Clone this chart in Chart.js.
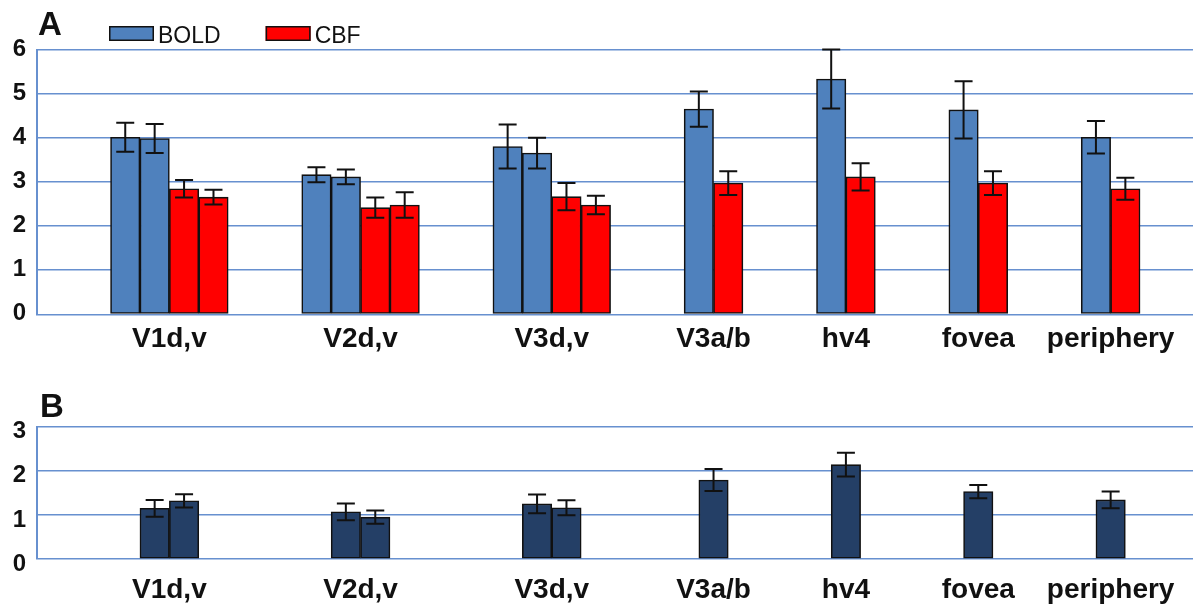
<!DOCTYPE html>
<html>
<head>
<meta charset="utf-8">
<script src="https://cdn.jsdelivr.net/npm/chart.js@4/dist/chart.umd.min.js"></script>
<style>
  html, body { margin: 0; padding: 0; background: #ffffff; }
  #wrap { position: relative; width: 1193px; height: 611px; overflow: hidden; }
  canvas { position: absolute; left: 0; }
  #panelA { top: 0; }
  #panelB { top: 365px; }
</style>
</head>
<body>
<div id="wrap">
  <canvas id="panelA" width="1193" height="365"></canvas>
  <canvas id="panelB" width="1193" height="246"></canvas>
</div>
<script>
// Visual areas: one group of bars per area (d and v subdivisions where present)
const categories = ['V1d,v', 'V2d,v', 'V3d,v', 'V3a/b', 'hv4', 'fovea', 'periphery'];
const seriesNames = ['BOLD', 'CBF'];

// Panel A: BOLD and CBF responses with error bars
const boldMean = [[4.02, 3.99], [3.17, 3.12], [3.81, 3.66], [4.66], [5.34], [4.64], [4.02]];
const boldErr  = [[0.33, 0.33], [0.17, 0.17], [0.50, 0.35], [0.40], [0.67], [0.65], [0.37]];
const cbfMean  = [[2.85, 2.66], [2.42, 2.48], [2.67, 2.48], [2.98], [3.12], [2.98], [2.85]];
const cbfErr   = [[0.20, 0.17], [0.23, 0.29], [0.31, 0.21], [0.27], [0.31], [0.27], [0.25]];

// Panel B: BOLD / CBF ratio with error bars
const ratioMean = [[1.15, 1.32], [1.07, 0.95], [1.25, 1.16], [1.79], [2.14], [1.53], [1.34]];
const ratioErr  = [[0.19, 0.15], [0.19, 0.15], [0.21, 0.17], [0.25], [0.27], [0.15], [0.19]];

// Value-axis ticks
const yTicksA = [0, 1, 2, 3, 4, 5, 6];
const yTicksB = [0, 1, 2, 3];

// ---- layout (x axis measured in bar widths) ----
const FONT = "'Liberation Sans', Arial, Helvetica, sans-serif";
const GAP = 2.5;          // empty slots before each group
const X_MAX = 39.3;       // visible extent of the category axis
const GRID = '#6790cf';
const INK = '#111111';
const COLORS = { BOLD: '#4f81bd', CBF: '#ff0000', ratio: '#243f66' };

// Group centres follow from the number of bars in each panel-A group
const groupCenters = [];
{
  let start = GAP;
  categories.forEach((_, i) => {
    const n = boldMean[i].length + cbfMean[i].length;
    groupCenters.push(start + n / 2);
    start += n + GAP;
  });
}

// Builds {x, y} bar points for one series; `offset(i)` gives the slot of the
// series' first bar inside group i, counted from the group's first slot.
function buildSeries(means, errors, groupSize, offset) {
  const data = [], errs = [];
  means.forEach((vals, i) => {
    const first = groupCenters[i] - groupSize(i) / 2 + 0.5 + offset(i);
    vals.forEach((v, j) => {
      data.push({ x: first + j, y: v });
      errs.push(errors[i][j]);
    });
  });
  return { data, errs };
}

const sizeA = i => boldMean[i].length + cbfMean[i].length;
const boldSeries = buildSeries(boldMean, boldErr, sizeA, () => 0);
const cbfSeries = buildSeries(cbfMean, cbfErr, sizeA, i => boldMean[i].length);
const ratioSeries = buildSeries(ratioMean, ratioErr, i => ratioMean[i].length, () => 0);

function barDataset(label, series, color) {
  return {
    type: 'bar',
    label,
    data: series.data,
    errors: series.errs,
    backgroundColor: color,
    borderColor: INK,
    borderWidth: 1.6,
    borderSkipped: false,
    grouped: false,
    barPercentage: 1,
    categoryPercentage: 1
  };
}

// Error bars with caps, drawn through the value scale
const errorBars = {
  id: 'errorBars',
  afterDatasetsDraw(chart) {
    const ctx = chart.ctx;
    const y = chart.scales.y;
    chart.data.datasets.forEach((ds, di) => {
      if (!ds.errors) return;
      const meta = chart.getDatasetMeta(di);
      meta.data.forEach((bar, i) => {
        const v = ds.data[i].y, e = ds.errors[i];
        const top = y.getPixelForValue(v + e);
        const bot = y.getPixelForValue(v - e);
        const half = 9;
        ctx.save();
        ctx.strokeStyle = INK;
        ctx.lineWidth = 2;
        ctx.beginPath();
        ctx.moveTo(bar.x, top); ctx.lineTo(bar.x, bot);
        ctx.moveTo(bar.x - half, top); ctx.lineTo(bar.x + half, top);
        ctx.moveTo(bar.x - half, bot); ctx.lineTo(bar.x + half, bot);
        ctx.stroke();
        ctx.restore();
      });
    });
  }
};

// Panel letter and the series key
const panelDecor = {
  id: 'panelDecor',
  afterDraw(chart, args, opts) {
    const ctx = chart.ctx;
    ctx.save();
    if (opts.letter) {
      ctx.fillStyle = INK;
      ctx.font = `bold 33px ${FONT}`;
      ctx.textBaseline = 'alphabetic';
      ctx.textAlign = 'left';
      ctx.fillText(opts.letter, opts.letterX, opts.letterY);
    }
    if (opts.key) {
      let x = opts.key.x;
      const y = opts.key.y;
      ctx.font = `23px ${FONT}`;
      ctx.textBaseline = 'alphabetic';
      chart.data.datasets.forEach(ds => {
        ctx.fillStyle = ds.backgroundColor;
        ctx.fillRect(x, y, 45, 15);
        ctx.strokeStyle = INK;
        ctx.lineWidth = 1.5;
        ctx.strokeRect(x + 0.75, y + 0.75, 43.5, 13.5);
        ctx.fillStyle = INK;
        ctx.fillText(ds.label, x + 49, y + 17);
        x += 49 + ctx.measureText(ds.label).width + 45;
      });
    }
    ctx.restore();
  }
};

function panelOptions(cfg) {
  return {
    responsive: false,
    animation: false,
    events: [],
    layout: { padding: { top: cfg.top, left: 0, right: 0, bottom: 0 } },
    plugins: {
      legend: { display: false },
      tooltip: { enabled: false },
      panelDecor: cfg.decor
    },
    scales: {
      x: {
        type: 'linear',
        min: 0,
        max: X_MAX,
        offset: false,
        grid: { display: false, drawTicks: false },
        border: { display: false },
        afterBuildTicks: s => { s.ticks = groupCenters.map(v => ({ value: v })); },
        afterFit: s => { s.height = cfg.xHeight; },
        ticks: {
          autoSkip: false,
          maxRotation: 0,
          padding: cfg.xPad,
          color: INK,
          font: { family: FONT, size: 28, weight: 'bold' },
          callback: (v, i) => categories[i]
        }
      },
      y: {
        min: 0,
        max: cfg.yTicks[cfg.yTicks.length - 1],
        afterBuildTicks: s => { s.ticks = cfg.yTicks.map(v => ({ value: v })); },
        afterFit: s => { s.width = 37; },
        grid: { color: GRID, lineWidth: 1.6, drawTicks: false },
        border: { display: true, color: GRID, width: 2 },
        ticks: {
          padding: 11,
          labelOffset: cfg.yOffset,
          color: INK,
          font: { family: FONT, size: 24, weight: 'bold' }
        }
      }
    }
  };
}

new Chart(document.getElementById('panelA'), {
  type: 'bar',
  data: {
    datasets: [
      barDataset(seriesNames[0], boldSeries, COLORS.BOLD),
      barDataset(seriesNames[1], cbfSeries, COLORS.CBF)
    ]
  },
  options: panelOptions({
    top: 50, xHeight: 50.7, xPad: 8, yTicks: yTicksA, yOffset: -1,
    decor: { letter: 'A', letterX: 38, letterY: 35, key: { x: 109, y: 26 } }
  }),
  plugins: [errorBars, panelDecor]
});

new Chart(document.getElementById('panelB'), {
  type: 'bar',
  data: {
    datasets: [barDataset('BOLD/CBF', ratioSeries, COLORS.ratio)]
  },
  options: panelOptions({
    top: 61.7, xHeight: 52, xPad: 14.5, yTicks: yTicksB, yOffset: 5,
    decor: { letter: 'B', letterX: 40, letterY: 52 }
  }),
  plugins: [errorBars, panelDecor]
});
</script>
</body>
</html>
